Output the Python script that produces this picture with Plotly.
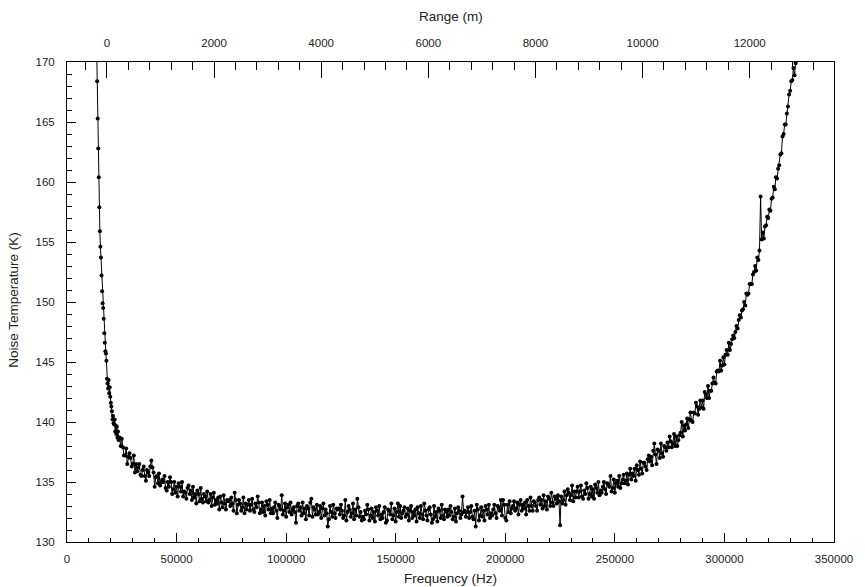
import plotly.graph_objects as go

# ---- data ----
# steep low-frequency part, sampled every 250 Hz
freq_low = [13500, 13750, 14000, 14250, 14500, 14750, 15000, 15250, 15500, 15750,
            16000, 16250, 16500, 16750, 17000, 17250, 17500, 17750, 18000, 18250,
            18500, 18750, 19000, 19250, 19500, 19750, 20000, 20250, 20500, 20750,
            21000, 21250, 21500, 21750, 22000, 22250, 22500, 22750, 23000, 23250,
            23500, 23750]
temp_low = [171.5, 168.4, 165.3, 162.8, 160.4, 157.9, 155.9, 154.6, 153.7, 152.2,
            150.9, 149.9, 149.5, 148.6, 147.4, 146.6, 145.9, 145.7, 145.1, 143.6,
            143.2, 142.8, 143.5, 142.4, 142.9, 142.1, 141.6, 141.3, 140.9, 140.2,
            140.5, 139.9, 139.8, 140.2, 139.2, 139.7, 139.0, 139.6, 138.7, 139.2,
            138.5, 138.6]

# main part, frequency bins every 500 Hz from 24000 Hz
freq_main_start = 24000
freq_main_step = 500
temp_main = [
    138.7, 138.0, 138.6, 137.9, 137.2, 137.2, 137.8, 136.5, 137.1, 137.4, 137.0, 136.3, 136.5, 137.2, 135.8, 136.5, 135.9, 136.2, 136.5, 135.6,
    135.5, 136.0, 136.3, 135.5, 135.1, 136.0, 135.8, 135.5, 136.3, 136.8, 136.2, 135.8, 134.6, 135.4, 135.5, 134.9, 135.7, 134.7, 135.0, 135.2,
    135.0, 135.5, 134.5, 134.3, 135.0, 134.6, 135.4, 135.0, 134.0, 134.4, 135.0, 134.1, 134.6, 133.8, 134.9, 134.6, 134.2, 135.0, 133.8, 134.2,
    134.1, 133.6, 134.5, 134.7, 134.0, 134.3, 133.5, 134.6, 133.7, 134.0, 133.2, 134.3, 134.0, 133.4, 134.5, 133.6, 133.3, 134.0, 133.8, 133.4,
    134.2, 133.3, 133.5, 134.0, 133.0, 133.7, 134.1, 133.1, 133.5, 133.2, 133.7, 132.7, 133.8, 133.3, 132.9, 133.9, 133.2, 132.7, 133.5, 133.4,
    133.5, 133.0, 133.7, 133.2, 132.6, 134.1, 133.5, 132.4, 133.1, 133.5, 133.2, 132.6, 132.9, 133.7, 132.4, 133.2, 132.7, 133.1, 133.5, 132.6,
    133.1, 133.6, 132.7, 132.5, 133.2, 132.9, 133.8, 133.3, 132.4, 132.7, 133.3, 132.5, 133.0, 132.2, 133.4, 133.1, 132.7, 133.5, 132.4, 132.8,
    132.4, 132.9, 133.3, 132.6, 132.0, 133.1, 133.0, 132.7, 133.9, 132.3, 132.6, 133.2, 132.1, 132.9, 133.1, 132.5, 133.3, 132.3, 132.7, 132.9,
    132.5, 131.6, 133.0, 133.2, 132.6, 132.9, 132.2, 133.3, 132.4, 132.8, 131.9, 133.0, 132.8, 132.2, 133.3, 133.6, 132.1, 132.9, 132.7, 132.3,
    133.1, 132.3, 132.5, 133.0, 132.0, 132.8, 133.2, 132.2, 132.7, 132.4, 131.3, 131.9, 133.0, 132.5, 132.1, 133.1, 132.4, 132.0, 132.8, 132.7,
    132.8, 132.3, 133.1, 132.6, 132.0, 132.2, 133.5, 131.8, 132.5, 133.0, 132.7, 132.1, 132.4, 133.2, 131.9, 132.7, 132.2, 133.6, 132.9, 132.1,
    132.5, 131.8, 132.1, 131.9, 132.6, 132.3, 133.1, 132.7, 131.8, 132.2, 132.8, 132.0, 132.5, 131.7, 132.9, 132.6, 132.2, 133.0, 131.9, 132.3,
    132.0, 132.5, 132.9, 131.6, 131.8, 132.7, 132.6, 132.3, 133.2, 131.9, 132.2, 132.8, 131.7, 132.5, 133.2, 132.1, 133.0, 132.0, 132.4, 132.6,
    132.9, 132.1, 132.3, 132.8, 131.8, 132.6, 133.0, 132.0, 132.5, 132.2, 132.7, 131.7, 132.9, 132.4, 132.0, 133.0, 132.3, 131.9, 133.2, 132.6,
    132.2, 131.8, 132.7, 132.9, 132.3, 131.6, 131.9, 133.0, 132.1, 132.5, 131.7, 132.8, 132.6, 132.0, 133.1, 132.2, 131.9, 132.7, 132.5, 132.1,
    132.7, 132.2, 133.0, 132.5, 131.9, 132.1, 132.8, 131.7, 132.4, 132.9, 132.6, 132.0, 132.3, 133.8, 132.5, 132.6, 132.1, 132.5, 132.9, 132.0,
    132.5, 133.0, 132.1, 131.9, 132.6, 131.3, 133.1, 132.7, 131.8, 132.2, 132.9, 132.1, 132.6, 131.8, 133.0, 132.7, 132.3, 133.1, 132.0, 132.4,
    132.2, 132.7, 133.1, 132.4, 132.0, 133.0, 132.9, 132.6, 133.5, 132.2, 133.5, 133.1, 132.0, 131.8, 133.1, 132.5, 133.4, 132.4, 132.8, 133.0,
    133.4, 132.6, 132.8, 133.3, 132.3, 133.1, 133.5, 132.6, 133.1, 132.8, 133.3, 132.3, 133.5, 133.0, 132.6, 133.7, 133.0, 132.6, 133.4, 133.3,
    133.0, 132.6, 133.5, 133.7, 133.1, 133.5, 132.8, 133.9, 133.0, 133.4, 132.7, 133.8, 133.6, 133.0, 134.1, 133.3, 133.0, 133.8, 133.6, 133.2,
    133.9, 133.4, 131.4, 133.8, 133.2, 133.5, 134.2, 133.1, 133.9, 134.4, 134.1, 133.5, 133.9, 134.7, 133.4, 134.2, 133.7, 134.2, 134.6, 133.7,
    134.2, 134.7, 133.8, 133.6, 134.3, 134.0, 134.9, 134.5, 133.6, 134.0, 134.6, 133.8, 134.4, 133.6, 134.8, 134.5, 134.1, 135.0, 133.9, 134.3,
    134.1, 134.6, 135.0, 134.4, 134.0, 134.9, 134.8, 134.6, 135.5, 134.2, 134.5, 135.2, 134.1, 134.9, 135.1, 134.6, 135.5, 134.5, 134.9, 135.2,
    135.6, 134.9, 135.1, 135.7, 134.8, 135.6, 136.1, 135.2, 135.7, 135.5, 136.1, 135.1, 136.4, 136.0, 135.6, 136.7, 136.1, 135.7, 136.6, 136.6,
    136.3, 136.0, 136.9, 137.2, 136.7, 137.1, 136.4, 137.6, 138.2, 137.3, 136.5, 137.7, 137.6, 137.0, 138.2, 137.4, 137.1, 138.0, 137.9, 137.6,
    138.3, 137.9, 138.8, 138.4, 137.9, 138.2, 139.0, 138.0, 138.8, 138.0, 138.5, 138.9, 139.1, 140.0, 138.8, 139.7, 139.3, 139.8, 140.3, 139.5,
    140.2, 140.8, 140.1, 140.0, 140.8, 140.7, 141.6, 141.3, 140.6, 141.1, 141.8, 141.2, 141.8, 141.1, 142.5, 142.3, 142.0, 143.0, 142.0, 142.6,
    142.6, 143.2, 143.7, 143.3, 143.2, 144.2, 144.3, 144.2, 145.1, 144.3, 144.7, 145.4, 144.8, 145.6, 146.0, 145.6, 146.6, 146.0, 146.5, 146.9,
    147.2, 147.0, 147.5, 148.0, 147.8, 148.5, 148.9, 148.7, 149.3, 149.4, 150.0, 149.7, 150.7, 150.6, 150.7, 151.5, 151.5, 151.5, 152.3, 152.5,
    153.0, 152.6, 153.7, 153.5, 154.3, 158.8, 155.2, 155.8, 155.3, 156.3, 156.4, 157.1, 157.0, 157.7, 157.6, 158.6, 158.7, 159.6, 159.4, 160.4,
    160.3, 161.1, 161.4, 162.3, 162.4, 163.8, 164.0, 164.8, 164.8, 165.7, 166.3, 167.3, 167.6, 168.4, 168.5, 169.5, 168.9, 169.9, 171.0,
]
freq_main = [freq_main_start + freq_main_step * i for i in range(len(temp_main))]

freq = freq_low + freq_main
temp = temp_low + temp_main

# axis settings
x_range = [0, 350000]
y_range = [130, 170]
range_m_axis = [-745, 13574]   # top axis (Range, m) aligned with frequency axis

FONT = "Liberation Sans, Arial, sans-serif"
TXT = "#222222"

fig = go.Figure()
fig.add_trace(go.Scatter(
    x=freq, y=temp, mode="lines+markers",
    line=dict(color="black", width=1),
    marker=dict(color="black", size=4),
    showlegend=False, hoverinfo="x+y",
))
# invisible trace to anchor the top (range) axis
fig.add_trace(go.Scatter(
    x=range_m_axis, y=[150, 150], xaxis="x2", mode="markers",
    marker=dict(opacity=0), showlegend=False, hoverinfo="skip",
))

fig.update_layout(
    width=865, height=587,
    margin=dict(l=67, r=20, t=62, b=45),
    paper_bgcolor="white", plot_bgcolor="white",
    font=dict(family=FONT, size=11.5, color=TXT),
    xaxis=dict(
        range=x_range, showgrid=False, zeroline=False,
        showline=True, linecolor="black", linewidth=1,
        ticks="inside", ticklen=9, tickwidth=1, tickcolor="black",
        tick0=0, dtick=50000, tickformat="d", ticklabelstandoff=6,
        minor=dict(ticks="inside", ticklen=4, tickwidth=1, tickcolor="black", dtick=10000, showgrid=False),
        tickfont=dict(size=11.5, color=TXT, family=FONT),
    ),
    xaxis2=dict(
        range=range_m_axis, overlaying="x", side="top", anchor="y",
        showgrid=False, zeroline=False,
        showline=True, linecolor="black", linewidth=1,
        ticks="inside", ticklen=16, tickwidth=1, tickcolor="black",
        tick0=0, dtick=2000, tickformat="d", ticklabelstandoff=9,
        minor=dict(ticks="inside", ticklen=8, tickwidth=1, tickcolor="black", dtick=400, showgrid=False),
        tickfont=dict(size=11.5, color=TXT, family=FONT),
    ),
    yaxis=dict(
        range=y_range, showgrid=False, zeroline=False,
        showline=True, linecolor="black", linewidth=1, mirror=True,
        ticks="inside", ticklen=9, tickwidth=1, tickcolor="black",
        tick0=130, dtick=5, ticklabelstandoff=9,
        minor=dict(ticks="inside", ticklen=5, tickwidth=1, tickcolor="black", dtick=1, showgrid=False),
        tickfont=dict(size=11.5, color=TXT, family=FONT),
    ),
    annotations=[
        dict(text="Frequency (Hz)", xref="paper", yref="paper", x=0.5, y=-0.075,
             xanchor="center", yanchor="middle", showarrow=False,
             font=dict(size=13.5, color=TXT, family=FONT)),
        dict(text="Range (m)", xref="paper", yref="paper", x=0.5, y=1.094,
             xanchor="center", yanchor="middle", showarrow=False,
             font=dict(size=13.5, color=TXT, family=FONT)),
        dict(text="Noise Temperature (K)", xref="paper", yref="paper", x=-0.0707, y=0.504,
             xanchor="center", yanchor="middle", textangle=-90, showarrow=False,
             font=dict(size=13.5, color=TXT, family=FONT)),
    ],
)

fig.write_html("out.html")
